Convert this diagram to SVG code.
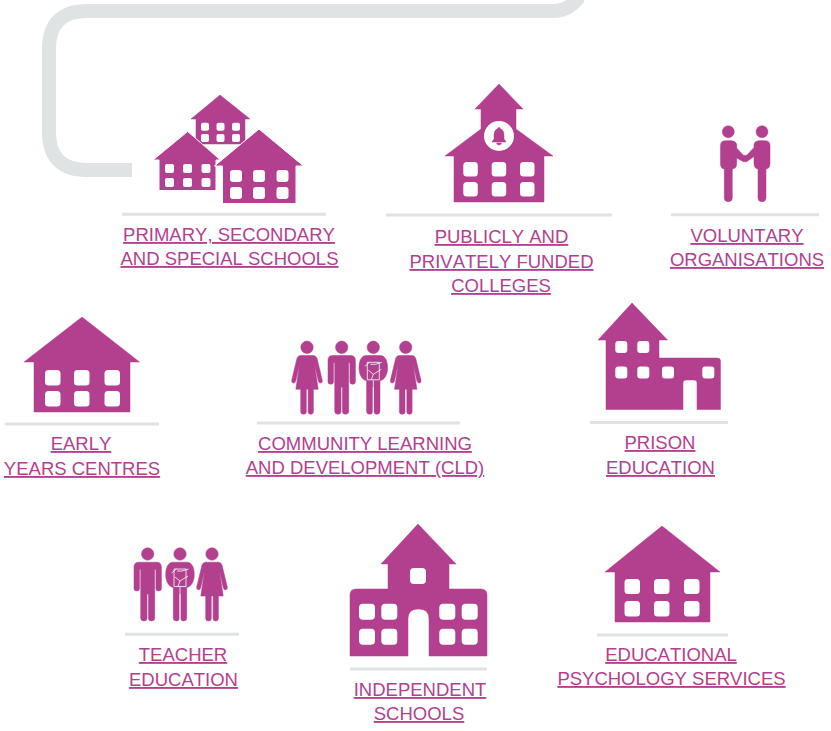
<svg xmlns="http://www.w3.org/2000/svg" xmlns:xlink="http://www.w3.org/1999/xlink" width="831" height="731" viewBox="0 0 831 731">
<style>
.m{fill:#B33F8F;stroke:#B33F8F;stroke-width:.5;stroke-linejoin:round}
.w{fill:#fff}
.r{stroke:#DFE3E3;stroke-width:3;fill:none}
.t{font-family:"Liberation Sans",Arial,sans-serif;font-size:18.5px;font-kerning:none;fill:#B33F8F;text-anchor:middle;text-decoration:underline}
.o{stroke:#fff;stroke-width:1}
.b{fill:none;stroke:#fff;stroke-width:.8}
</style>
<defs>
<path id="woman" class="m" d="M0-6.200a6.200 6.200 0 1 1-.01 0ZM-6.500 8.200H6.500Q9 8.200 10 11L15.300 33Q15.800 35.500 13.800 35.800 12 36 11.300 34L7.500 17 11.200 42H6.400V64.500Q6.400 67 3.700 67 1.100 67 1.100 64.500V42H-.7V64.500Q-.7 67-3.500 67-6.300 67-6.300 64.500V42H-11.200L-7.500 17-11.300 34Q-12 36-13.800 35.800-15.800 35.500-15.300 33L-10 11Q-9 8.200-6.500 8.200Z"/>
<path id="man" class="m" d="M0-6.200a6.200 6.200 0 1 1-.01 0ZM-9 8.200H9Q13.700 8.200 13.700 13V34.500Q13.700 37 11 37 8.200 37 8.200 34.500V15.500H7V64Q7 67 3.600 67 .7 67 .7 64V40H-.7V64Q-.7 67-3.600 67-7 67-7 64V15.500H-8.200V34.500Q-8.200 37-11 37-13.700 37-13.700 34.500V13Q-13.700 8.200-9 8.200Z"/>
<g id="student">
<path class="m" d="M0-6.200a6.200 6.200 0 1 1-.01 0ZM-7 8.200H7C11.500 8.200 14.300 13 14.300 20.500 14.300 28 10.500 33 6.700 33.500V64Q6.700 67 3.400 67 .7 67 .7 64V40H-.7V64Q-.7 67-3.400 67-6.700 67-6.700 64V33.500C-10.500 33-14.300 28-14.300 20.500-14.300 13-11.500 8.200-7 8.200Z"/>
<path class="b" d="M-6 15H6V32.500H-6ZM-8.500 19-3.500 15M8.500 15 2 17H-3M8 22 0 27-5 23M0 27-2 32.500M0 33V66"/>
</g>
</defs>
<g id="connectors">
<path d="M132 170H87Q49 170 49 132V49Q49 11 87 11H553Q569 11 579-3" fill="none" stroke="#DFE3E3" stroke-width="14"/>
</g>
<g id="primary-schools">
<path class="m" d="M220 95 250 119H245V144H196V119H191Z"/>
<g class="w"><rect x="201" y="122.700" width="8" height="8" rx="2"/><rect x="216.500" y="122.700" width="8" height="8" rx="2"/><rect x="232" y="122.700" width="8" height="8" rx="2"/><rect x="201" y="134" width="8" height="8" rx="2"/><rect x="216.500" y="134" width="8" height="8" rx="2"/><rect x="232" y="134" width="8" height="8" rx="2"/></g>
<path class="m o" d="M187.700 131.500 220.500 160H216V190.500H159V160H153Z"/>
<g class="w"><rect x="165" y="164" width="9" height="9" rx="2"/><rect x="183" y="164" width="9" height="9" rx="2"/><rect x="201.500" y="164" width="9" height="9" rx="2"/><rect x="165" y="178" width="9" height="9" rx="2"/><rect x="183" y="178" width="9" height="9" rx="2"/><rect x="201.500" y="178" width="9" height="9" rx="2"/></g>
<path class="m o" d="M259 129 303.500 166H296V203.500H222.500V166H214.500Z"/>
<g class="w"><rect x="230" y="170" width="12" height="12" rx="3"/><rect x="253" y="170" width="12" height="12" rx="3"/><rect x="276.500" y="170" width="12" height="12" rx="3"/><rect x="230" y="187" width="12" height="12" rx="3"/><rect x="253" y="187" width="12" height="12" rx="3"/><rect x="276.500" y="187" width="12" height="12" rx="3"/></g>
<line class="r" x1="122" y1="214.300" x2="326" y2="214.300"/>
<text class="t" x="229" y="241">PRIMARY, SECONDARY</text>
<text class="t" x="229.500" y="265">AND SPECIAL SCHOOLS</text>
</g>
<g id="colleges">
<path class="m" d="M499 84 523 109H516V129L553 156H544V202H454V156H445L481 129V109H475Z"/>
<circle class="w" cx="499" cy="136" r="15"/>
<path class="m" d="M499 127.500a1.300 1.300 0 0 1 1.300 1.300Q504 130 504 135V139L506 142H492L494 139V135Q494 130 497.700 128.800A1.300 1.300 0 0 1 499 127.500ZM496.500 143H501.500Q501 145 499 145 497 145 496.500 143Z"/>
<g class="w"><rect x="463.300" y="162" width="14.500" height="14.500" rx="3.500"/><rect x="491.700" y="162" width="14.500" height="14.500" rx="3.500"/><rect x="520" y="162" width="14.500" height="14.500" rx="3.500"/><rect x="463.300" y="182" width="14.500" height="14.500" rx="3.500"/><rect x="491.700" y="182" width="14.500" height="14.500" rx="3.500"/><rect x="520" y="182" width="14.500" height="14.500" rx="3.500"/></g>
<line class="r" x1="386" y1="215" x2="612" y2="215"/>
<text class="t" x="501.500" y="243">PUBLICLY AND</text>
<text class="t" x="501.500" y="268">PRIVATELY FUNDED</text>
<text class="t" x="501" y="292">COLLEGES</text>
</g>
<g id="voluntary">
<circle class="m" cx="728.300" cy="131.700" r="6"/>
<circle class="m" cx="762" cy="131.700" r="6"/>
<path class="m" d="M725.500 140.700H731.500Q735 140.700 736.700 144V148L743 155 745 155.500 747 155 754 147.500V144Q755.500 140.700 758.500 140.700H765Q770 140.700 770 145.500V163.500Q770 168.500 766 169V198Q766 201.700 762 201.700 758 201.700 758 198V169Q754 168.500 754 163.500V156.500L747 161.500Q745 162 743 161.500L736.700 158V163.500Q736.700 168.500 732.300 169V198Q732.300 201.700 728.300 201.700 724.300 201.700 724.300 198V169Q720.500 168.500 720.500 163.500V145.500Q720.500 140.700 725.500 140.700Z"/>
<line class="r" x1="671" y1="214.700" x2="819" y2="214.700"/>
<text class="t" x="747" y="242">VOLUNTARY</text>
<text class="t" x="747" y="266">ORGANISATIONS</text>
</g>
<g id="early-years">
<path class="m" d="M82 317 139.500 362H130V412H34V362H24Z"/>
<g class="w"><rect x="45" y="370" width="15.500" height="15.500" rx="3.500"/><rect x="74" y="370" width="15.500" height="15.500" rx="3.500"/><rect x="104.500" y="370" width="15.500" height="15.500" rx="3.500"/><rect x="45" y="391" width="15.500" height="15.500" rx="3.500"/><rect x="74" y="391" width="15.500" height="15.500" rx="3.500"/><rect x="104.500" y="391" width="15.500" height="15.500" rx="3.500"/></g>
<line class="r" x1="5" y1="424" x2="159" y2="424"/>
<text class="t" x="81" y="450">EARLY</text>
<text class="t" x="82" y="475">YEARS CENTRES</text>
</g>
<g id="cld">
<use xlink:href="#woman" href="#woman" x="307" y="347.300"/>
<use xlink:href="#man" href="#man" x="341.700" y="347.300"/>
<use xlink:href="#student" href="#student" x="373.300" y="347.300"/>
<use xlink:href="#woman" href="#woman" x="405.700" y="347.300"/>
<line class="r" x1="257" y1="423" x2="460" y2="423"/>
<text class="t" x="365" y="450">COMMUNITY LEARNING</text>
<text class="t" x="365" y="474">AND DEVELOPMENT (CLD)</text>
</g>
<g id="prison">
<path class="m" d="M632 303 667.500 340H659V358H717Q720.500 358 720.500 361V409.500H697V383Q697 380 694 380H686Q683 380 683 383V409.500H606V340H598Z"/>
<g class="w"><rect x="615.300" y="341" width="12" height="12" rx="3"/><rect x="637.300" y="341" width="12" height="12" rx="3"/><rect x="615.300" y="366.500" width="12" height="12" rx="3"/><rect x="637.300" y="366.500" width="12" height="12" rx="3"/><rect x="662" y="366.500" width="12" height="12" rx="3"/><rect x="702.300" y="366.500" width="12" height="12" rx="3"/></g>
<line class="r" x1="590" y1="422.500" x2="728" y2="422.500"/>
<text class="t" x="660" y="449">PRISON</text>
<text class="t" x="660.500" y="474">EDUCATION</text>
</g>
<g id="teacher-education">
<use xlink:href="#man" href="#man" x="147.700" y="554"/>
<use xlink:href="#student" href="#student" x="180" y="554"/>
<use xlink:href="#woman" href="#woman" x="212" y="554"/>
<line class="r" x1="125" y1="634.300" x2="239" y2="634.300"/>
<text class="t" x="183" y="661">TEACHER</text>
<text class="t" x="183.500" y="686">EDUCATION</text>
</g>
<g id="independent-schools">
<path class="m" d="M418 524 456 564H449V589H481Q487 589 487 595V656H429V619Q429 609 419 609H418Q408 609 408 619V656H350V595Q350 589 356 589H388V564H381Z"/>
<g class="w"><rect x="410" y="568" width="16" height="16" rx="4"/><rect x="359" y="603.700" width="16" height="16" rx="4"/><rect x="381.300" y="603.700" width="16" height="16" rx="4"/><rect x="439.300" y="603.700" width="16" height="16" rx="4"/><rect x="461.700" y="603.700" width="16" height="16" rx="4"/><rect x="359" y="628.700" width="16" height="16" rx="4"/><rect x="381.300" y="628.700" width="16" height="16" rx="4"/><rect x="439.300" y="628.700" width="16" height="16" rx="4"/><rect x="461.700" y="628.700" width="16" height="16" rx="4"/></g>
<line class="r" x1="350" y1="669" x2="487" y2="669"/>
<text class="t" x="420" y="696">INDEPENDENT</text>
<text class="t" x="419" y="720">SCHOOLS</text>
</g>
<g id="educational-psychology">
<path class="m" d="M662 526 720 572H710V622H615V572H605Z"/>
<g class="w"><rect x="624.500" y="579" width="15.500" height="15" rx="3.500"/><rect x="654" y="579" width="15.500" height="15" rx="3.500"/><rect x="684" y="579" width="15.500" height="15" rx="3.500"/><rect x="624.500" y="601" width="15.500" height="15.500" rx="3.500"/><rect x="654" y="601" width="15.500" height="15.500" rx="3.500"/><rect x="684" y="601" width="15.500" height="15.500" rx="3.500"/></g>
<line class="r" x1="597" y1="635" x2="728" y2="635"/>
<text class="t" x="671" y="661">EDUCATIONAL</text>
<text class="t" x="671.500" y="685">PSYCHOLOGY SERVICES</text>
</g>
</svg>
